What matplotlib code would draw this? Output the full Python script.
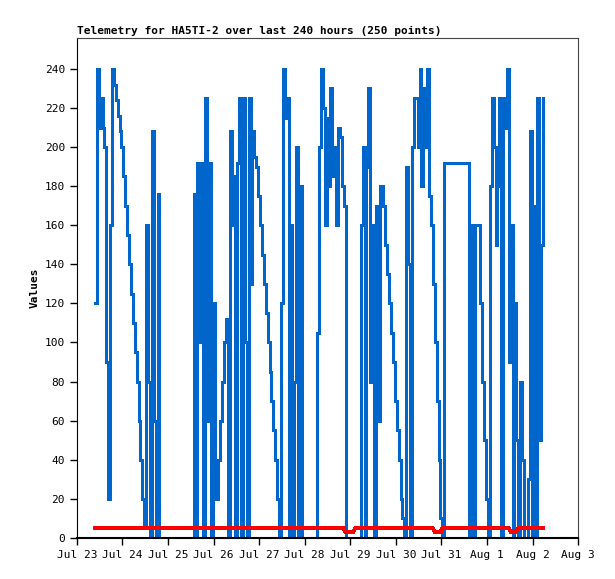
import matplotlib
matplotlib.use("Agg")
import matplotlib.pyplot as plt
import matplotlib.dates as mdates
from datetime import datetime, timedelta

start = datetime(2024, 7, 23, 9, 30)
segments = [
    [120,240,210,225,210,200,90,20,160,240],
    [232,224,216,208,200,185,170,155,140,125,110,95,80,60,40,20,5],
    [160,80,0,208,60,0,176,0],
    [0]*17,
    [176,0,192,100,192,0,225,60,192,0,120,20],
    [20,40,60,80,100,112,0],
    [208,160,185,0,192,225,0,225,100,0,225,130,208,195],
    [190,175,160,145,130,115,100,85,70,55,40,20,0],
    [120,240,215,225,0,160,0,80,200,0,180,0],
    [0,0,0,0,0,0,0],
    [105,200,240,220,160,215,180,230,185,200,160,210,205,180,170,0,0],
    [0,0,0,0,0,0],
    [160,200,0,190,230,80,160,0,170,60,180],
    [180,170,150,135,120,105,90,70,55,40,20,10,0],
    [190,140,0,200,225,225,200,240,180,230,200,240,175],
    [160,130,100,70,40,10,0,192],
    [0,160,0,160,160,160],
    [120,80,50,20,0],
    [180,225,200,150,180,225,0,225,210,240,90,160,0,120,50],
    [0,80,40,0,0,30],
    [208,0,170,0,225,50,150,225],
]
gap_before = {16: 12}
blue = []
hours = []
h = 0
for i, seg in enumerate(segments):
    h += gap_before.get(i, 0)
    for v in seg:
        blue.append(v)
        hours.append(h)
        h += 1
times = [start + timedelta(hours=x) for x in hours]

red = []
for t in times:
    r = 5
    if datetime(2024,7,28,21) <= t <= datetime(2024,7,29,2): r = 3
    if datetime(2024,7,30,20) <= t <= datetime(2024,7,31,0): r = 3
    if datetime(2024,8,1,12) <= t <= datetime(2024,8,1,16): r = 3
    red.append(r)

fig = plt.figure(figsize=(6.15, 5.79), dpi=100)
ax = fig.add_axes([0.125, 0.071, 0.815, 0.863])
ax.plot(times, blue, color="#0066cc", lw=2, drawstyle="steps-post", antialiased=False)
ax.plot(times, red, color="#ff0000", lw=2, antialiased=False)
ax.set_xlim(datetime(2024,7,23), datetime(2024,8,3))
ax.set_ylim(0, 255.7)
ax.set_yticks(range(0, 241, 20))
ax.xaxis.set_major_locator(mdates.DayLocator())
ax.xaxis.set_major_formatter(mdates.DateFormatter("%b %-d"))
mono = "DejaVu Sans Mono"
for lab in ax.get_xticklabels() + ax.get_yticklabels():
    lab.set_fontfamily(mono); lab.set_fontsize(8)
ax.tick_params(direction="out", length=5, width=1)
ax.set_ylabel("Values", family=mono, fontsize=8, fontweight="bold")
ax.set_title("Telemetry for HA5TI-2 over last 240 hours (250 points)", family=mono,
             fontsize=8, fontweight="bold", loc="left", pad=3)
for s in ["top", "right"]:
    ax.spines[s].set_color("#444444")
ax.spines["bottom"].set_linewidth(1.5)
fig.savefig("out.png")
